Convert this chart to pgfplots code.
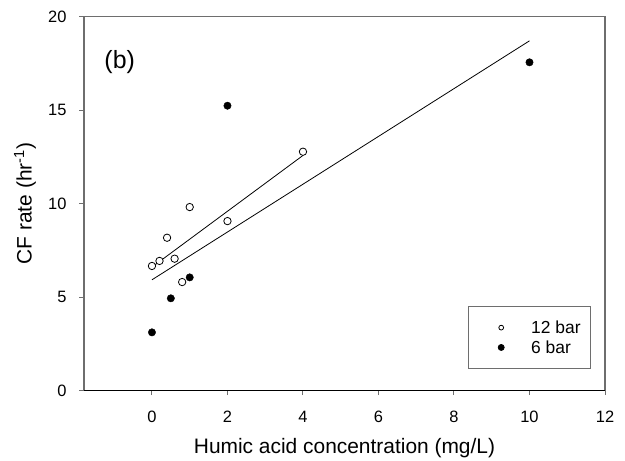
\documentclass[border=0pt]{standalone}
\usepackage{pgfplots}
\pgfplotsset{compat=1.18}
\usepackage{fontspec}
\setmainfont{Liberation Sans}
\definecolor{frame}{RGB}{110,110,110}
\begin{document}
\begin{tikzpicture}
\useasboundingbox (-84bp,-70.3bp) rectangle (541bp,390.7bp);
\begin{axis}[
  at={(0,0)}, anchor=south west,
  scale only axis, width=521bp, height=374bp,
  xmin=-1.8, xmax=12, ymin=0, ymax=20,
  xtick={0,2,4,6,8,10,12}, ytick={0,5,10,15,20},
  tick align=outside, major tick length=4.5bp,
  xtick pos=bottom, ytick pos=left,
  tick style={frame, line width=1bp},
  axis line style={frame, line width=1.2bp},
  /pgf/number format/assume math mode=true,
  ticklabel style={font=\fontsize{16.5}{19}\selectfont},
  xticklabel shift=12bp, yticklabel shift=9.5bp,
  label style={font=\fontsize{21}{25}\selectfont},
  xlabel={Humic acid concentration (mg/L)},
  ylabel={CF rate (hr\textsuperscript{-1})},
  xlabel style={at={(axis description cs:0.5,-0.1524)}, anchor=center},
  ylabel style={at={(axis description cs:-0.1132,0.5)}, anchor=center},
  legend style={at={(0.7365,0.058)}, anchor=south west, draw=frame, line width=1bp,
    font=\fontsize{17.5}{20}\selectfont, inner xsep=7.5bp, inner ysep=12bp,
    row sep=1.7bp, legend cell align=left,
    /tikz/every even column/.append style={column sep=0bp}},
  legend image code/.code={\path (-25bp,0bp) (27.5bp,0bp); \draw[#1, line width=0.8bp] plot coordinates {(0bp,0bp)};},
]
% regression lines
\addplot[black, line width=0.8bp, forget plot] coordinates {(0,6.61) (4,12.58)};
\addplot[black, line width=0.8bp, forget plot] coordinates {(0,5.93) (10,18.71)};
\addplot[only marks, mark=*, mark size=3.7bp, mark options={fill=white, draw=black, line width=0.8bp},
  legend image post style={mark size=2.4bp}]
  coordinates {(0,6.67) (0.2,6.94) (0.4,8.18) (0.6,7.06) (0.8,5.81) (1.0,9.82) (2.0,9.07) (4.0,12.78)};
\addlegendentry{12 bar}
\addplot[only marks, mark=*, mark size=3.7bp, mark options={fill=black, draw=black},
  legend image post style={mark size=3bp}]
  coordinates {(0,3.12) (0.5,4.94) (1.0,6.06) (2.0,15.24) (10.0,17.56)};
\addlegendentry{6 bar}
\draw[black, line width=1bp] (rel axis cs:0,0) -- (rel axis cs:1,0);
\node[font=\fontsize{25}{29}\selectfont] at (rel axis cs:0.0685,0.88) {(b)};
\end{axis}
\end{tikzpicture}
\end{document}
